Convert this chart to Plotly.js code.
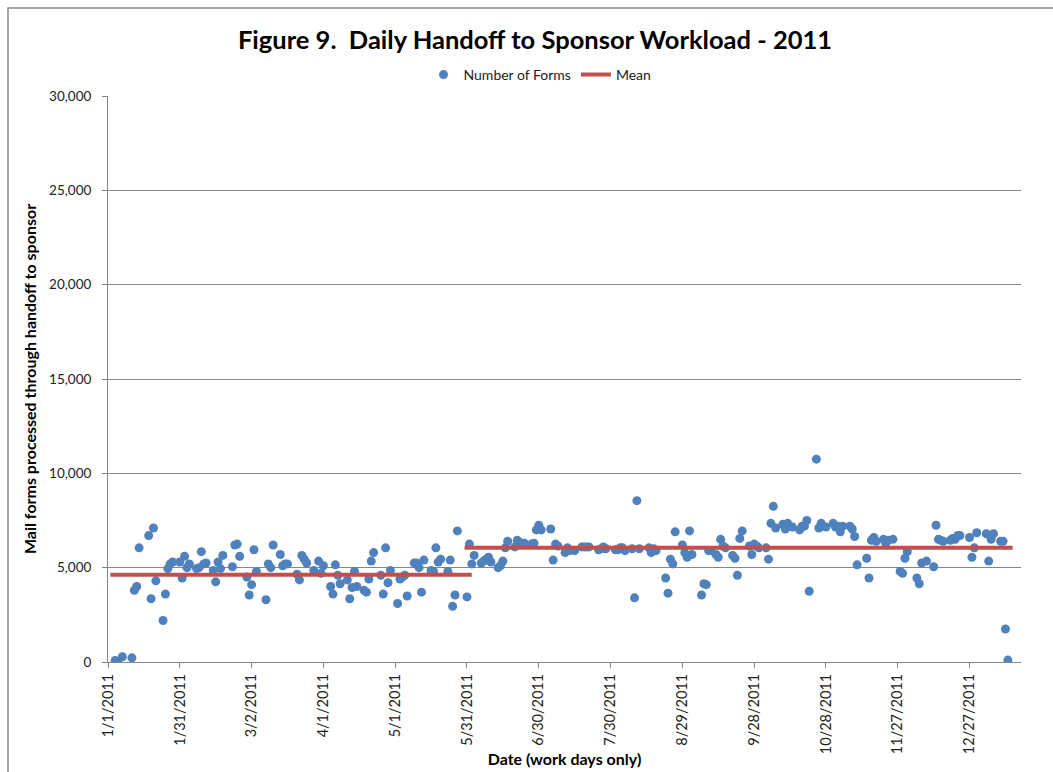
<!DOCTYPE html>
<html>
<head>
<meta charset="utf-8">
<script src="https://cdn.plot.ly/plotly-3.0.1.min.js"></script>
<style>
  html, body { margin: 0; padding: 0; background: #ffffff; }
  #chart { width: 1053px; height: 772px; }
</style>
</head>
<body>
<div id="chart"></div>
<script>
// Daily handoff counts (work days)
const dates = [
  '2011-01-04','2011-01-05','2011-01-07','2011-01-11','2011-01-12','2011-01-13','2011-01-14',
  '2011-01-18','2011-01-19','2011-01-20','2011-01-21','2011-01-24','2011-01-25','2011-01-26',
  '2011-01-27','2011-01-28','2011-01-31','2011-02-01','2011-02-02','2011-02-03','2011-02-04',
  '2011-02-07','2011-02-08','2011-02-09','2011-02-10','2011-02-11','2011-02-14','2011-02-15',
  '2011-02-16','2011-02-17','2011-02-18','2011-02-22','2011-02-23','2011-02-24','2011-02-25',
  '2011-02-28','2011-03-01','2011-03-02','2011-03-03','2011-03-04','2011-03-08','2011-03-09',
  '2011-03-10','2011-03-11','2011-03-14','2011-03-15','2011-03-16','2011-03-17','2011-03-21',
  '2011-03-22','2011-03-23','2011-03-24','2011-03-25','2011-03-28','2011-03-30','2011-03-31',
  '2011-04-01','2011-04-04','2011-04-05','2011-04-06','2011-04-07','2011-04-08','2011-04-11',
  '2011-04-12','2011-04-13','2011-04-14','2011-04-15','2011-04-18','2011-04-19','2011-04-20',
  '2011-04-21','2011-04-22','2011-04-25','2011-04-26','2011-04-27','2011-04-28','2011-04-29',
  '2011-05-02','2011-05-03','2011-05-04','2011-05-05','2011-05-06','2011-05-09','2011-05-10',
  '2011-05-11','2011-05-12','2011-05-13','2011-05-16','2011-05-17','2011-05-18','2011-05-19',
  '2011-05-20','2011-05-23','2011-05-24','2011-05-25','2011-05-26','2011-05-27','2011-05-31',
  '2011-06-01','2011-06-02','2011-06-03','2011-06-06','2011-06-07','2011-06-08','2011-06-09',
  '2011-06-10','2011-06-13','2011-06-14','2011-06-15','2011-06-16','2011-06-17','2011-06-20',
  '2011-06-21','2011-06-22','2011-06-23','2011-06-24','2011-06-27','2011-06-28','2011-06-29',
  '2011-06-30','2011-07-01','2011-07-05','2011-07-06','2011-07-07','2011-07-08','2011-07-11',
  '2011-07-12','2011-07-13','2011-07-15','2011-07-18','2011-07-19','2011-07-20','2011-07-21',
  '2011-07-25','2011-07-26','2011-07-27','2011-07-28','2011-08-01','2011-08-02','2011-08-03',
  '2011-08-04','2011-08-05','2011-08-08','2011-08-09','2011-08-10','2011-08-11','2011-08-15',
  '2011-08-16','2011-08-17','2011-08-18','2011-08-22','2011-08-23','2011-08-24','2011-08-25',
  '2011-08-26','2011-08-29','2011-08-30','2011-08-31','2011-09-01','2011-09-02','2011-09-06',
  '2011-09-07','2011-09-08','2011-09-09','2011-09-10','2011-09-12','2011-09-13','2011-09-14',
  '2011-09-15','2011-09-16','2011-09-19','2011-09-20','2011-09-21','2011-09-22','2011-09-23',
  '2011-09-26','2011-09-27','2011-09-28','2011-09-29','2011-09-30','2011-10-03','2011-10-04',
  '2011-10-05','2011-10-06','2011-10-07','2011-10-10','2011-10-11','2011-10-12','2011-10-13',
  '2011-10-14','2011-10-17','2011-10-18','2011-10-19','2011-10-20','2011-10-21','2011-10-24',
  '2011-10-25','2011-10-26','2011-10-27','2011-10-28','2011-10-31','2011-11-01','2011-11-02',
  '2011-11-03','2011-11-04','2011-11-07','2011-11-08','2011-11-09','2011-11-10','2011-11-14',
  '2011-11-15','2011-11-16','2011-11-17','2011-11-18','2011-11-21','2011-11-22','2011-11-23',
  '2011-11-25','2011-11-28','2011-11-29','2011-11-30','2011-12-01','2011-12-05','2011-12-06',
  '2011-12-07','2011-12-09','2011-12-12','2011-12-13','2011-12-14','2011-12-15','2011-12-16',
  '2011-12-19','2011-12-20','2011-12-21','2011-12-22','2011-12-23','2011-12-27','2011-12-28',
  '2011-12-29','2011-12-30','2012-01-03','2012-01-04','2012-01-05','2012-01-06','2012-01-09',
  '2012-01-10','2012-01-11','2012-01-12'
];
const forms = [
  80,30,280,220,3800,4000,6050,
  6700,3350,7100,4300,2200,3600,4950,
  5200,5300,5300,4450,5600,5000,5200,
  4950,5000,5850,5200,5250,4850,4250,
  5300,4950,5650,5050,6200,6250,5600,
  4500,3550,4100,5950,4800,3300,5200,
  5000,6200,5700,5100,5200,5200,4650,
  4350,5650,5450,5250,4850,5350,4700,
  5100,4000,3600,5150,4600,4150,4350,
  3350,3950,4800,4000,3800,3700,4400,
  5350,5800,4600,3600,6050,4200,4850,
  3100,4400,4500,4600,3500,5250,5250,
  5000,3700,5400,4850,4800,6050,5300,
  5450,4800,5400,2950,3550,6950,3450,
  6250,5200,5650,5250,5350,5450,5550,
  5300,5000,5100,5350,6050,6400,6100,
  6450,6350,6250,6300,6250,6300,7000,
  7250,7000,7050,5400,6250,6150,5800,
  6050,5900,5900,6100,6100,6100,6100,
  5950,6000,6100,6000,5950,5950,6050,
  6050,5900,6000,3400,8550,6000,6050,
  5800,6000,5900,4450,3650,5450,5200,
  6900,6200,5800,5550,6950,5700,3550,
  4150,4100,5900,5900,5700,5550,6500,
  6150,6050,5650,5500,4600,6550,6950,
  6150,5700,6250,6150,6050,6050,5450,
  7350,8250,7100,7300,7050,7350,7200,
  7150,7000,7200,7200,7500,3750,10750,
  7100,7350,7200,7150,7350,7150,7200,
  6900,7200,7200,7050,6650,5150,5500,
  4450,6450,6600,6400,6500,6300,6450,
  6500,4800,4700,5500,5850,4450,4150,
  5250,5350,5050,7250,6500,6450,6400,
  6450,6550,6500,6700,6700,6600,5550,
  6050,6850,6800,5350,6500,6800,6400,
  6400,1750,100
];

// Mean levels for the two periods
const meanStart = ['2011-01-02', '2011-05-30'];
const meanEnd   = ['2011-06-02', '2012-01-14'];
const meanValue = [4620, 6050];

// Axis tick labels / settings
const yTickVals = [0, 5000, 10000, 15000, 20000, 25000, 30000];
const yTickText = ['0', '5,000', '10,000', '15,000', '20,000', '25,000', '30,000'];

const meanX = [], meanY = [];
for (let i = 0; i < meanStart.length; i++) {
  if (i > 0) { meanX.push(null); meanY.push(null); }
  meanX.push(meanStart[i], meanEnd[i]);
  meanY.push(meanValue[i], meanValue[i]);
}

const FONT = 'Lato, "Open Sans", "Liberation Sans", sans-serif';
const W = 1053, H = 772;
const M = {l: 108, r: 32, t: 96, b: 110};
const pw = W - M.l - M.r, ph = H - M.t - M.b;
const px2x = p => (p - M.l) / pw;
const py2y = p => (H - M.b - p) / ph;

const traces = [
  {
    type: 'scatter', mode: 'markers', name: 'Number of Forms',
    x: dates, y: forms,
    marker: {color: '#4F81BD', size: 9, line: {width: 0}},
    hoverinfo: 'skip'
  },
  {
    type: 'scatter', mode: 'lines', name: 'Mean',
    x: meanX, y: meanY, connectgaps: false,
    line: {color: '#C0504D', width: 4},
    hoverinfo: 'skip'
  }
];

const layout = {
  width: W, height: H,
  margin: M,
  paper_bgcolor: '#ffffff', plot_bgcolor: '#ffffff',
  font: {family: FONT, size: 13, color: '#222222'},
  title: {
    text: '<b>Figure 9.\u00A0 Daily Handoff to Sponsor Workload - 2011</b>',
    font: {family: FONT, size: 25.5, color: '#000000'},
    x: px2x(535), xref: 'paper', xanchor: 'center',
    y: 1 - 40 / H, yref: 'container', yanchor: 'middle'
  },
  showlegend: true,
  legend: {
    orientation: 'h', x: px2x(540), xanchor: 'center',
    y: py2y(75), yanchor: 'middle',
    font: {family: FONT, size: 14, color: '#222222'},
    itemwidth: 30, bgcolor: 'rgba(0,0,0,0)'
  },
  xaxis: {
    type: 'date',
    range: ['2011-01-01', '2012-01-17 12:00'],
    tick0: '2011-01-01', dtick: 30 * 86400000,
    tickformat: '%-m/%-d/%Y', tickangle: -90,
    ticks: 'outside', ticklen: 5, tickcolor: '#868686',
    showline: true, linecolor: '#868686', linewidth: 1,
    showgrid: false, zeroline: false,
    tickfont: {family: FONT, size: 14.5, color: '#222222'},
    title: {text: '<b>Date (work days only)</b>', font: {family: FONT, size: 16, color: '#000000'}, standoff: 0}
  },
  yaxis: {
    range: [0, 30000],
    tickvals: yTickVals, ticktext: yTickText,
    ticks: 'outside', ticklen: 5, tickcolor: '#868686',
    ticklabelstandoff: 8,
    showline: true, linecolor: '#868686', linewidth: 1,
    showgrid: true, gridcolor: '#868686', gridwidth: 1,
    zeroline: false,
    tickfont: {family: FONT, size: 13.5, color: '#222222'},
    title: {text: '<b>Mail forms processed through handoff to sponsor</b>', font: {family: FONT, size: 16, color: '#000000'}, standoff: 8}
  },
  shapes: [{
    type: 'rect', xref: 'paper', yref: 'paper',
    x0: px2x(8), x1: px2x(1070), y0: py2y(790), y1: py2y(8),
    line: {color: '#8a8a8a', width: 1.5}, fillcolor: 'rgba(0,0,0,0)', layer: 'below'
  }]
};

Plotly.newPlot('chart', traces, layout, {displayModeBar: false, staticPlot: true});
</script>
</body>
</html>
